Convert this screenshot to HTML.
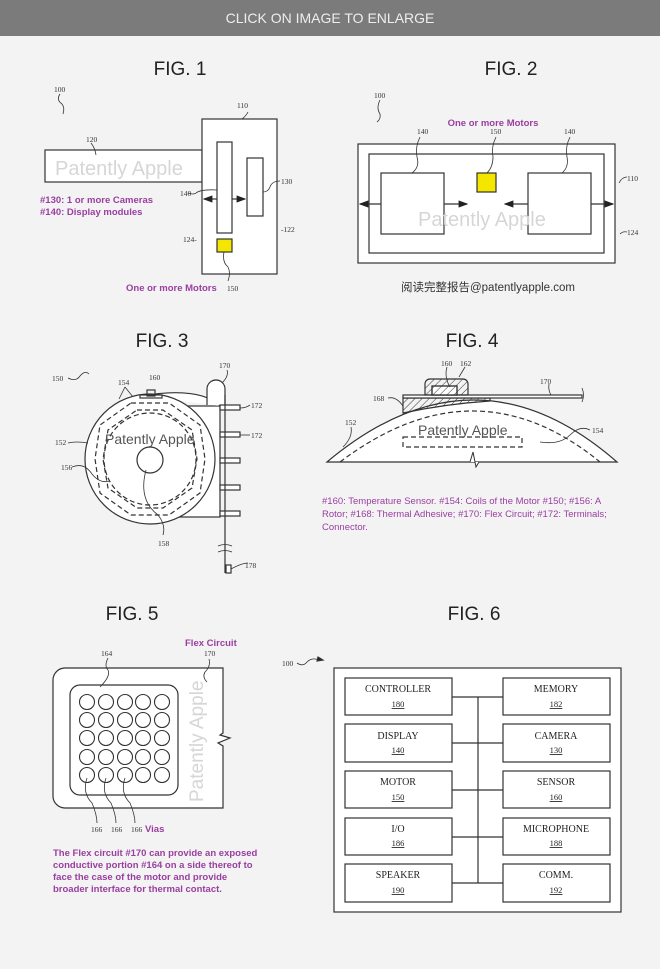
<!DOCTYPE html>
<html><head><meta charset="utf-8"><style>
html,body{margin:0;padding:0;background:#f3f3f3;}
svg{display:block;}
text{font-family:"Liberation Serif",serif;}
.fig{font-family:"Liberation Sans",sans-serif;font-size:19px;fill:#222;}
.n{font-size:7.5px;fill:#333;}
.p{font-family:"Liberation Sans",sans-serif;font-size:9.5px;fill:#9a3ea0;font-weight:bold;}
.wm{font-family:"Liberation Sans",sans-serif;fill:#d6d6d6;}
.b{font-size:10px;fill:#222;}
.u{font-size:8.5px;fill:#222;text-decoration:underline;}
</style></head><body>
<svg width="660" height="969" viewBox="0 0 660 969" xmlns="http://www.w3.org/2000/svg">
<defs>
<marker id="ar" markerWidth="8" markerHeight="6" refX="7" refY="3" orient="auto"><path d="M0,0 L8,3 L0,6z" fill="#222"/></marker>
<pattern id="h" width="5" height="5" patternUnits="userSpaceOnUse" patternTransform="rotate(45)"><line x1="0" y1="0" x2="0" y2="5" stroke="#333" stroke-width="1"/></pattern>
</defs>
<rect x="0" y="0" width="660" height="36" fill="#7b7b7b"/>
<text x="330" y="23" text-anchor="middle" style="font-family:'Liberation Sans',sans-serif;font-size:14px;fill:#eee">CLICK ON IMAGE TO ENLARGE</text>

<g fill="none" stroke="#333" stroke-width="1.2">
<!-- FIG 1 -->
<rect x="45" y="150" width="157" height="32" fill="#fff"/>
<rect x="202" y="119" width="75" height="155" fill="#fff"/>
<rect x="217" y="142" width="15" height="91"/>
<rect x="247" y="158" width="16" height="58"/>
<rect x="217" y="239" width="15" height="13" fill="#f5e600"/>
<line x1="217" y1="199" x2="204" y2="199" marker-end="url(#ar)"/>
<line x1="232" y1="199" x2="245" y2="199" marker-end="url(#ar)"/>
<path d="M60,94 q-4,6 2,10 q3,4 1,10" stroke-width="0.8"/>
<path d="M224,252 q-2,10 4,15 q3,6 0,14" stroke-width="0.8"/>
<path d="M91,143 q4,5 5,12" stroke-width="0.8"/>
<path d="M248,112 q-2,4 -6,7" stroke-width="0.8"/>
<path d="M188,193 q6,2 8,0 q5,-4 21,-3" stroke-width="0.8"/>
<path d="M280,181 q-8,0 -10,6 q-2,5 -7,5" stroke-width="0.8"/>

<!-- FIG 2 -->
<rect x="358" y="144" width="257" height="119" fill="#fff"/>
<rect x="369" y="154" width="235" height="99"/>
<rect x="381" y="173" width="63" height="61" fill="#fff"/>
<rect x="528" y="173" width="63" height="61" fill="#fff"/>
<rect x="477" y="173" width="19" height="19" fill="#f5e600"/>
<line x1="381" y1="204" x2="360" y2="204" marker-end="url(#ar)"/>
<line x1="444" y1="204" x2="467" y2="204" marker-end="url(#ar)"/>
<line x1="528" y1="204" x2="505" y2="204" marker-end="url(#ar)"/>
<line x1="591" y1="204" x2="613" y2="204" marker-end="url(#ar)"/>
<path d="M380,100 q-4,8 0,14 q1,5 -3,8" stroke-width="0.8"/>
<path d="M420,137 q-5,10 -3,20 q3,10 -5,16" stroke-width="0.8"/>
<path d="M496,137 q-5,10 -3,20 q0,10 -6,16" stroke-width="0.8"/>
<path d="M570,137 q-5,10 -3,20 q2,10 -5,16" stroke-width="0.8"/>
<path d="M627,177 q-5,0 -8,6" stroke-width="0.8"/>
<path d="M627,232 q-4,-1 -7,2" stroke-width="0.8"/>

<!-- FIG 3 -->
<rect x="150" y="406" width="70" height="111" fill="#fff"/>
<path d="M140,396 q60,-10 80,10" fill="#fff"/>
<path d="M207,405 v-16 a9,9 0 0 1 18,0 v16" fill="#fff"/>
<circle cx="150" cy="459" r="65" fill="#fff"/>
<rect x="220" y="405" width="20" height="5" fill="#fff"/>
<rect x="220" y="432" width="20" height="5" fill="#fff"/>
<rect x="220" y="458" width="20" height="5" fill="#fff"/>
<rect x="220" y="485" width="20" height="5" fill="#fff"/>
<rect x="220" y="511" width="20" height="5" fill="#fff"/>
<line x1="225" y1="395" x2="225" y2="573"/>
<rect x="226" y="565" width="5" height="8" fill="#fff"/>
<rect x="147" y="390" width="8" height="6"/>
<rect x="140" y="395" width="22" height="3"/>
<polygon points="131,403 169,403 200,425 205,459 200,493 169,515 131,515 100,493 95,459 100,425" stroke-dasharray="5,3"/>
<polygon points="137,410 163,410 192,430 197,459 192,488 163,508 137,508 108,488 103,459 108,430" stroke-dasharray="5,3"/>
<circle cx="150" cy="459" r="46" stroke-dasharray="5,3"/>
<circle cx="150" cy="460" r="13"/>
<path d="M146,470 q-8,30 12,45 q8,10 5,20" stroke-width="0.8"/>
<path d="M218,546 q7,-3 14,0 M218,552 q7,-3 14,0" stroke-width="0.8"/>
<path d="M68,378 q8,4 12,-2 q5,-6 9,-2" stroke-width="0.8"/>
<path d="M125,387 l-6,12 M125,387 l8,10" stroke-width="0.8"/>
<path d="M68,443 q8,-2 20,0" stroke-width="0.8"/>
<path d="M72,467 q12,-5 20,7 q8,10 18,7" stroke-width="0.8"/>
<path d="M227,370 q2,6 -5,13" stroke-width="0.8"/>
<path d="M250,405 q-4,3 -10,3" stroke-width="0.8"/>
<path d="M250,435 q-4,0 -10,0" stroke-width="0.8"/>
<path d="M248,563 q-6,0 -17,6" stroke-width="0.8"/>

<!-- FIG 4 -->
<path d="M327,462 Q475,338 617,462 Z" fill="#fff"/>
<path d="M340,462 Q475,360 600,462" stroke-dasharray="5,3"/>
<path d="M403,413 L403,398 L490,398 L490,401 Q445,404 403,413 Z" fill="url(#h)"/>
<rect x="403" y="395" width="179" height="3" fill="#fff"/>
<path d="M425,395 v-11 a5,5 0 0 1 5,-5 h33 a5,5 0 0 1 5,5 v11 z" fill="url(#h)"/>
<rect x="432" y="386" width="25" height="9" fill="#fff"/>
<rect x="432" y="386" width="25" height="9" fill="url(#h)"/>
<path d="M582,388 q3,7 0,14" stroke-width="0.8"/>
<rect x="403" y="437" width="119" height="10" stroke-dasharray="5,3"/>
<path d="M466,462 l4,0 l3,-10 l3,15 l3,-5" fill="#fff" stroke-width="1"/>
<path d="M388,398 q8,-2 15,8" stroke-width="0.8"/>
<path d="M351,427 q2,10 -8,20" stroke-width="0.8"/>
<path d="M590,430 q-10,-5 -20,5 q-10,10 -30,7" stroke-width="0.8"/>
<path d="M447,367 q-3,10 3,20" stroke-width="0.8"/>
<path d="M465,367 q-3,5 -6,10" stroke-width="0.8"/>
<path d="M549,384 q-1,6 2,11" stroke-width="0.8"/>

<!-- FIG 5 -->
<path d="M223,668 H65 a12,12 0 0 0 -12,12 V796 a12,12 0 0 0 12,12 H223 V746 l-5,-3 l12,-5 l-10,-3 l3,-2 Z" fill="#fff"/>
<rect x="70" y="685" width="108" height="110" rx="10" fill="#fff"/>
<g stroke-width="1.1">
<circle cx="87" cy="702" r="7.5"/><circle cx="106" cy="702" r="7.5"/><circle cx="125" cy="702" r="7.5"/><circle cx="143" cy="702" r="7.5"/><circle cx="162" cy="702" r="7.5"/>
<circle cx="87" cy="720" r="7.5"/><circle cx="106" cy="720" r="7.5"/><circle cx="125" cy="720" r="7.5"/><circle cx="143" cy="720" r="7.5"/><circle cx="162" cy="720" r="7.5"/>
<circle cx="87" cy="738" r="7.5"/><circle cx="106" cy="738" r="7.5"/><circle cx="125" cy="738" r="7.5"/><circle cx="143" cy="738" r="7.5"/><circle cx="162" cy="738" r="7.5"/>
<circle cx="87" cy="757" r="7.5"/><circle cx="106" cy="757" r="7.5"/><circle cx="125" cy="757" r="7.5"/><circle cx="143" cy="757" r="7.5"/><circle cx="162" cy="757" r="7.5"/>
<circle cx="87" cy="775" r="7.5"/><circle cx="106" cy="775" r="7.5"/><circle cx="125" cy="775" r="7.5"/><circle cx="143" cy="775" r="7.5"/><circle cx="162" cy="775" r="7.5"/>
</g>
<path d="M108,658 q-4,8 0,12 q3,6 -8,17" stroke-width="0.8"/>
<path d="M209,659 q2,7 -4,13 q-3,5 2,10" stroke-width="0.8"/>
<path d="M87,778 q-5,15 5,25 q5,12 5,20" stroke-width="0.8"/>
<path d="M106,778 q-5,15 5,25 q5,12 5,20" stroke-width="0.8"/>
<path d="M125,778 q-5,15 5,25 q5,12 5,20" stroke-width="0.8"/>

<!-- FIG 6 -->
<rect x="334" y="668" width="287" height="244" fill="#fff"/>
<rect x="345" y="678" width="107" height="37"/><rect x="503" y="678" width="107" height="37"/>
<rect x="345" y="724" width="107" height="38"/><rect x="503" y="724" width="107" height="38"/>
<rect x="345" y="771" width="107" height="37"/><rect x="503" y="771" width="107" height="37"/>
<rect x="345" y="818" width="107" height="37"/><rect x="503" y="818" width="107" height="37"/>
<rect x="345" y="864" width="107" height="38"/><rect x="503" y="864" width="107" height="38"/>
<line x1="478" y1="697" x2="478" y2="883"/>
<path d="M452,697H503M452,743H503M452,790H503M452,837H503M452,883H503"/>
<path d="M297,663 q6,4 10,-1 q5,-5 12,-2" stroke-width="0.8"/>
<path d="M318,657 l5,3 l-6,1z" fill="#222"/>
</g>

<!-- watermarks -->
<text class="wm" x="55" y="175" font-size="20">Patently Apple</text>
<text class="wm" x="418" y="226" font-size="20">Patently Apple</text>
<text x="105" y="444" font-size="14" style="font-family:'Liberation Sans',sans-serif;fill:#555">Patently Apple</text>
<text x="418" y="435" font-size="14" style="font-family:'Liberation Sans',sans-serif;fill:#555">Patently Apple</text>
<text class="wm" transform="translate(203,802) rotate(-90)" font-size="19">Patently Apple</text>

<!-- titles -->
<text class="fig" x="180" y="75" text-anchor="middle">FIG. 1</text>
<text class="fig" x="511" y="75" text-anchor="middle">FIG. 2</text>
<text class="fig" x="162" y="347" text-anchor="middle">FIG. 3</text>
<text class="fig" x="472" y="347" text-anchor="middle">FIG. 4</text>
<text class="fig" x="132" y="620" text-anchor="middle">FIG. 5</text>
<text class="fig" x="474" y="620" text-anchor="middle">FIG. 6</text>

<!-- numbers -->
<text class="n" x="54" y="92">100</text>
<text class="n" x="237" y="108">110</text>
<text class="n" x="86" y="142">120</text>
<text class="n" x="281" y="184">130</text>
<text class="n" x="180" y="196">140</text>
<text class="n" x="281" y="232">-122</text>
<text class="n" x="183" y="242">124-</text>
<text class="n" x="227" y="291">150</text>
<text class="n" x="374" y="98">100</text>
<text class="n" x="417" y="134">140</text>
<text class="n" x="490" y="134">150</text>
<text class="n" x="564" y="134">140</text>
<text class="n" x="627" y="181">110</text>
<text class="n" x="627" y="235">124</text>
<text class="n" x="52" y="381">150</text>
<text class="n" x="118" y="385">154</text>
<text class="n" x="149" y="380">160</text>
<text class="n" x="219" y="368">170</text>
<text class="n" x="251" y="408">172</text>
<text class="n" x="251" y="438">172</text>
<text class="n" x="55" y="445">152</text>
<text class="n" x="61" y="470">156</text>
<text class="n" x="158" y="546">158</text>
<text class="n" x="245" y="568">178</text>
<text class="n" x="441" y="366">160</text>
<text class="n" x="460" y="366">162</text>
<text class="n" x="540" y="384">170</text>
<text class="n" x="373" y="401">168</text>
<text class="n" x="345" y="425">152</text>
<text class="n" x="592" y="433">154</text>
<text class="n" x="101" y="656">164</text>
<text class="n" x="204" y="656">170</text>
<text class="n" x="91" y="832">166</text>
<text class="n" x="111" y="832">166</text>
<text class="n" x="131" y="832">166</text>
<text class="n" x="282" y="666">100</text>

<!-- purple annotations -->
<text class="p" x="40" y="203">#130: 1 or more Cameras</text>
<text class="p" x="40" y="215">#140: Display modules</text>
<text class="p" x="126" y="291">One or more Motors</text>
<text class="p" x="493" y="126" text-anchor="middle">One or more Motors</text>
<text x="488" y="291" text-anchor="middle" style="font-family:'Liberation Sans','Noto Sans CJK SC',sans-serif;font-size:11.5px;fill:#333">阅读完整报告@patentlyapple.com</text>
<text class="p" x="322" y="504" style="font-weight:normal">#160: Temperature Sensor. #154: Coils of the Motor #150; #156: A</text>
<text class="p" x="322" y="517" style="font-weight:normal">Rotor; #168: Thermal Adhesive; #170: Flex Circuit; #172: Terminals;</text>
<text class="p" x="322" y="530" style="font-weight:normal">Connector.</text>
<text class="p" x="185" y="646">Flex Circuit</text>
<text class="p" x="145" y="832">Vias</text>
<text class="p" x="53" y="856">The Flex circuit #170 can provide an exposed</text>
<text class="p" x="53" y="868">conductive portion #164 on a side thereof to</text>
<text class="p" x="53" y="880">face the case of the motor and provide</text>
<text class="p" x="53" y="892">broader interface for thermal contact.</text>

<!-- FIG 6 labels -->
<g text-anchor="middle">
<text class="b" x="398" y="692">CONTROLLER</text><text class="u" x="398" y="707">180</text>
<text class="b" x="556" y="692">MEMORY</text><text class="u" x="556" y="707">182</text>
<text class="b" x="398" y="739">DISPLAY</text><text class="u" x="398" y="753">140</text>
<text class="b" x="556" y="739">CAMERA</text><text class="u" x="556" y="753">130</text>
<text class="b" x="398" y="785">MOTOR</text><text class="u" x="398" y="800">150</text>
<text class="b" x="556" y="785">SENSOR</text><text class="u" x="556" y="800">160</text>
<text class="b" x="398" y="832">I/O</text><text class="u" x="398" y="846">186</text>
<text class="b" x="556" y="832">MICROPHONE</text><text class="u" x="556" y="846">188</text>
<text class="b" x="398" y="878">SPEAKER</text><text class="u" x="398" y="893">190</text>
<text class="b" x="556" y="878">COMM.</text><text class="u" x="556" y="893">192</text>
</g>
</svg>
</body></html>
